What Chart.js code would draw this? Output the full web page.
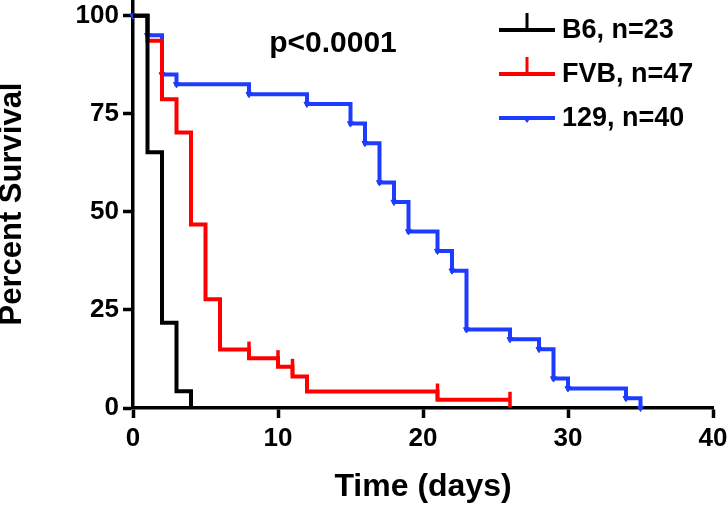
<!DOCTYPE html>
<html><head><meta charset="utf-8">
<script src="https://cdn.jsdelivr.net/npm/chart.js@4/dist/chart.umd.min.js"></script>
<style>html,body{margin:0;padding:0;background:#fff}#wrap{width:727px;height:510px;position:relative}</style>
</head><body><div id="wrap"><canvas id="c"></canvas></div>
<script>
// ---- data ----
const xTicks = [0, 10, 20, 30, 40];
const yTicks = [0, 25, 50, 75, 100];
const seriesNames = ['B6, n=23', 'FVB, n=47', '129, n=40'];
const b6Days = [0, 1, 2, 3, 4];
const b6Surv = [100, 65.2, 21.7, 4.3, 0];
const fvbDays = [0, 1, 2, 3, 4, 5, 6, 8, 10, 11, 12, 21, 26];
const fvbSurv = [100, 93.6, 78.7, 70.2, 46.8, 27.7, 14.9, 12.7, 10.5, 8.0, 4.2, 2.1, 2.1];
const fvbCensorDays = [8, 10, 11, 21, 26];
const fvbCensorSurv = [14.9, 12.7, 10.5, 4.2, 2.1];
const s129Days = [0, 1, 2, 3, 8, 12, 15, 16, 17, 18, 19, 21, 22, 23, 26, 28, 29, 30, 34, 35];
const s129Surv = [100, 95, 85, 82.5, 80, 77.5, 72.5, 67.5, 57.5, 52.5, 45, 40, 35, 20, 17.5, 15, 7.5, 5, 2.5, 0];
const pValue = 'p<0.0001';
const xTitle = 'Time (days)';
const yTitle = 'Percent Survival';

const lineColors = ['#000000', '#ff0000', '#1e3cff'];
const FONT = '"Liberation Sans", Arial, sans-serif';
function pts(xs, ys) { return xs.map((x, i) => ({x: x, y: ys[i]})); }

const overlay = {
  id: 'overlay',
  afterDatasetsDraw(chart) {
    const ctx = chart.ctx;
    ctx.save();
    ctx.fillStyle = '#000';
    ctx.font = 'bold 30px ' + FONT;
    ctx.textAlign = 'center';
    ctx.textBaseline = 'alphabetic';
    ctx.fillText(pValue, 333, 52);
    const rows = [30, 74, 118];
    seriesNames.forEach((name, i) => {
      const y = rows[i], c = lineColors[i];
      ctx.strokeStyle = c; ctx.lineWidth = 4;
      ctx.beginPath(); ctx.moveTo(499, y); ctx.lineTo(555, y); ctx.stroke();
      if (i < 2) {
        ctx.lineWidth = 3;
        ctx.beginPath(); ctx.moveTo(527, y); ctx.lineTo(527, y - 17); ctx.stroke();
      } else {
        ctx.fillStyle = c;
        ctx.beginPath(); ctx.moveTo(522, y - 2); ctx.lineTo(532, y - 2); ctx.lineTo(527, y + 5); ctx.closePath(); ctx.fill();
      }
      ctx.fillStyle = '#000';
      ctx.font = 'bold 27px ' + FONT;
      ctx.textAlign = 'left';
      ctx.textBaseline = 'middle';
      ctx.fillText(name, 562, y + 1);
    });
    ctx.restore();
  }
};

const axisCommon = {
  grid: {display: true, drawOnChartArea: false, drawTicks: true, tickLength: 10, tickWidth: 3.5, tickColor: '#000'},
  border: {display: true, color: '#000', width: 3.5},
};

new Chart(document.getElementById('c'), {
  type: 'line',
  data: {
    datasets: [
      {label: seriesNames[0], data: pts(b6Days, b6Surv), stepped: true, borderColor: lineColors[0], borderWidth: 4, pointRadius: 0, fill: false, clip: false},
      {label: seriesNames[1], data: pts(fvbDays, fvbSurv), stepped: true, borderColor: lineColors[1], borderWidth: 4, pointRadius: 0, fill: false, clip: false},
      {label: seriesNames[1] + ' censored', data: pts(fvbCensorDays, fvbCensorSurv), showLine: false, borderColor: lineColors[1], backgroundColor: lineColors[1], pointStyle: 'line', rotation: 90, pointRadius: 8, pointBorderWidth: 3.5, clip: false},
      {label: seriesNames[2], data: pts(s129Days, s129Surv), stepped: true, borderColor: lineColors[2], borderWidth: 4, pointStyle: 'triangle', rotation: 180, pointRadius: 3.5, pointBorderWidth: 1, pointBackgroundColor: lineColors[2], pointBorderColor: lineColors[2], fill: false, clip: false}
    ]
  },
  options: {
    responsive: true,
    maintainAspectRatio: false,
    animation: false,
    layout: {autoPadding: false, padding: {left: 0, right: 14, top: 0, bottom: 0}},
    plugins: {legend: {display: false}, tooltip: {enabled: false}},
    scales: {
      x: Object.assign({}, axisCommon, {
        type: 'linear', min: 0, max: 40,
        afterBuildTicks(s) { s.ticks = xTicks.map(v => ({value: v})); },
        afterFit(s) { s.height = 102; s.paddingLeft = 0; s.paddingRight = 0; },
        ticks: {color: '#000', font: {family: FONT, size: 26, weight: 'bold'}, padding: 5, maxRotation: 0},
        title: {display: true, text: xTitle, color: '#000', font: {family: FONT, size: 32, weight: 'bold'}, padding: {top: 0, bottom: 4}}
      }),
      y: Object.assign({}, axisCommon, {
        type: 'linear', min: 0, max: 104,
        afterBuildTicks(s) { s.ticks = yTicks.map(v => ({value: v})); },
        afterFit(s) { s.width = 133; s.paddingTop = 0; s.paddingBottom = 0; },
        ticks: {color: '#000', font: {family: FONT, size: 26, weight: 'bold'}, padding: 4},
        title: {display: true, text: yTitle, color: '#000', font: {family: FONT, size: 31, weight: 'bold', lineHeight: 0.82}, padding: {top: 0, bottom: 0}}
      })
    }
  },
  plugins: [overlay]
});
</script></body></html>
